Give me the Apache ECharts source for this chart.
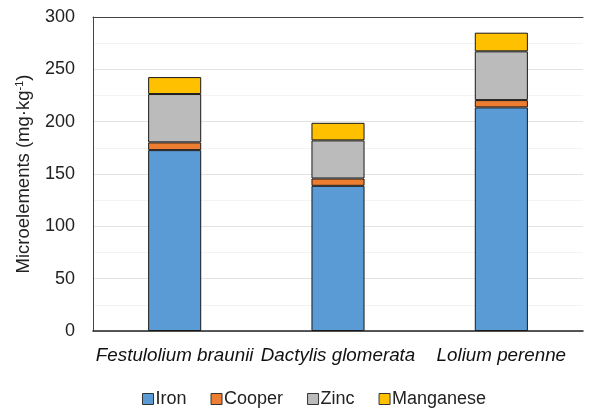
<!DOCTYPE html>
<html><head><meta charset="utf-8">
<script src="https://cdn.jsdelivr.net/npm/echarts@6/dist/echarts.min.js"></script>
<style>html,body{margin:0;padding:0;background:#fff}#c{width:590px;height:412px}</style>
</head><body><div id="c"></div>
<script>
const categories = ['Festulolium braunii', 'Dactylis glomerata', 'Lolium perenne'];
const iron = [172.8, 138.7, 213.6];
const cooper = [7.4, 7.0, 7.0];
const zinc = [46.2, 36.4, 46.6];
const manganese = [16.2, 16.8, 17.8];
const yTicks = [0, 50, 100, 150, 200, 250, 300];

const font = 'Liberation Sans, Arial, sans-serif';
function bar(name, data, color) {
  return {
    name, type: 'bar', stack: 'total', data, barWidth: '32.5%',
    itemStyle: { color, borderColor: '#1a1a1a', borderWidth: 1 },
    emphasis: { disabled: true }
  };
}
const chart = echarts.init(document.getElementById('c'), null, { renderer: 'canvas' });
chart.setOption({
  animation: false,
  textStyle: { fontFamily: font },
  grid: { left: 93, right: 7, top: 17, bottom: 81 },
  legend: {
    top: 385, left: 137, icon: 'rect', itemWidth: 11, itemHeight: 11, itemGap: 24,
    textStyle: { fontSize: 18, color: '#222', fontFamily: font, padding: [0, 0, 0, -3] },
    itemStyle: { borderColor: '#333', borderWidth: 1 },
    data: ['Iron', 'Cooper', 'Zinc', 'Manganese']
  },
  xAxis: [{
    type: 'category', data: categories,
    axisLine: { lineStyle: { color: '#222', width: 1.5 } },
    axisTick: { show: false },
    axisLabel: { fontSize: 18.8, fontStyle: 'italic', color: '#111', margin: 15, interval: 0 }
  }, {
    type: 'category', data: categories, position: 'top',
    axisLine: { lineStyle: { color: '#444', width: 1 } },
    axisTick: { show: false }, axisLabel: { show: false }
  }],
  yAxis: {
    type: 'value', min: yTicks[0], max: yTicks[yTicks.length - 1], interval: 50,
    axisLine: { show: true, lineStyle: { color: '#444', width: 1 } },
    axisTick: { show: false },
    axisLabel: { fontSize: 18, color: '#222', margin: 18 },
    splitLine: { lineStyle: { color: '#e3e3e3', width: 1 } },
    minorTick: { show: false, splitNumber: 2 },
    minorSplitLine: { show: true, lineStyle: { color: '#f3f3f3', width: 1 } },
    name: '{a|Microelements (mg·kg}{s|-1}{a|)}',
    nameLocation: 'middle', nameRotate: 90, nameGap: 59,
    nameTextStyle: {
      rich: {
        a: { fontSize: 18.5, color: '#222', fontFamily: font },
        s: { fontSize: 11, color: '#222', fontFamily: font, verticalAlign: 'top', padding: [0, 0, 9, 0] }
      }
    }
  },
  series: [
    bar('Iron', iron, '#5B9BD5'),
    bar('Cooper', cooper, '#ED7D31'),
    bar('Zinc', zinc, '#BBBBBB'),
    bar('Manganese', manganese, '#FFC000')
  ]
});
</script></body></html>
